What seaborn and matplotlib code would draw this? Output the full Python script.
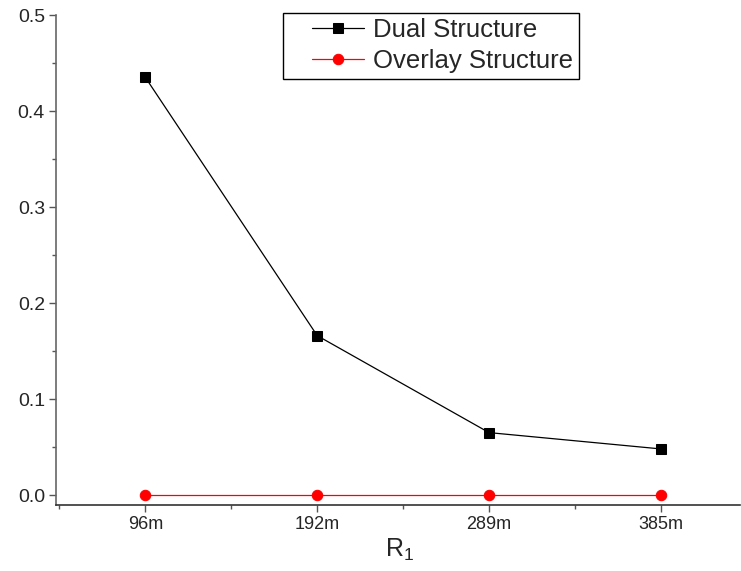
import numpy as np
import pandas as pd
import matplotlib
matplotlib.use("Agg")
import matplotlib.pyplot as plt
import seaborn as sns
from matplotlib.ticker import MultipleLocator
from matplotlib.legend_handler import HandlerLine2D

categories = ["96m", "192m", "289m", "385m"]
dual = [0.435, 0.166, 0.065, 0.048]
overlay = [0.0, 0.0, 0.0, 0.0]

sns.set_style("ticks")
plt.rcParams['font.family'] = ['Liberation Sans', 'DejaVu Sans']
plt.rcParams['mathtext.fontset'] = 'custom'
plt.rcParams['mathtext.rm'] = 'Liberation Sans'
plt.rcParams['mathtext.it'] = 'Liberation Sans'

fig = plt.figure(figsize=(7.41, 5.71), dpi=100)
ax = fig.add_axes([56/741, 66/571, (740-56)/741, (505-15)/571])

x = np.arange(len(categories))
df = pd.DataFrame({"x": x, "Dual Structure": dual, "Overlay Structure": overlay})

sns.lineplot(data=df, x="x", y="Dual Structure", ax=ax, color="black", lw=0.9,
             marker="s", markersize=7, markeredgecolor="black", label="Dual Structure")
sns.lineplot(data=df, x="x", y="Overlay Structure", ax=ax, color="#ff0000", lw=0.9,
             marker="o", markersize=7.5, markeredgecolor="#ff0000", label="Overlay Structure")

ax.set_xlim(-0.52, 3.46)
ax.set_ylim(-0.0104, 0.5)
ax.set_xticks(x)
ax.set_xticklabels(categories, fontsize=13)
ax.xaxis.set_minor_locator(MultipleLocator(0.5))
ax.set_yticks([0.0, 0.1, 0.2, 0.3, 0.4, 0.5])
ax.yaxis.set_minor_locator(MultipleLocator(0.05))
ax.set_yticklabels(["0.0", "0.1", "0.2", "0.3", "0.4", "0.5"], fontsize=14)
ax.tick_params(axis="both", which="major", length=5, width=1, color="#555555", direction="out", pad=3)
ax.tick_params(axis="both", which="minor", length=3, width=1, color="#555555", direction="out")
ax.spines["top"].set_visible(False)
ax.spines["right"].set_visible(False)
ax.spines["left"].set_color("#666666")
ax.spines["bottom"].set_color("#333333")
ax.spines["left"].set_linewidth(1.2)
ax.spines["bottom"].set_linewidth(1.2)

ax.set_xlabel(r"R$_\mathregular{1}$", fontsize=18, labelpad=6)
ax.xaxis.set_label_coords((400-56)/684, -0.065)
ax.set_ylabel("")


class ShiftedHandler(HandlerLine2D):
    def __init__(self, shift, **kw):
        super().__init__(**kw)
        self.shift = shift

    def create_artists(self, legend, orig_handle, xdescent, ydescent, width, height, fontsize, trans):
        return super().create_artists(legend, orig_handle, xdescent - self.shift, ydescent,
                                      width - self.shift, height, fontsize, trans)


handles, labels = ax.get_legend_handles_labels()
hmap = {h: ShiftedHandler(17) for h in handles}
leg = ax.legend(handles, labels, handler_map=hmap,
                loc="upper left", bbox_to_anchor=((283-56)/684, (505-13)/490), fontsize=18.5,
                frameon=True, fancybox=False, edgecolor="black", framealpha=1,
                borderpad=0.21, handlelength=2.95, handletextpad=0.35, labelspacing=0.27,
                borderaxespad=0)
leg.get_frame().set_linewidth(1.0)

fig.savefig("out.png", dpi=100)
